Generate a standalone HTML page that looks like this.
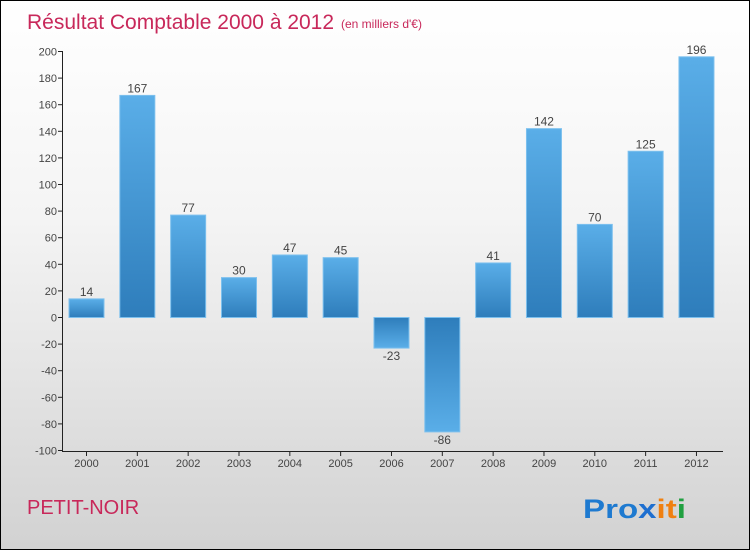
<!DOCTYPE html>
<html><head><meta charset="utf-8"><style>
body{margin:0;width:750px;height:550px;overflow:hidden}
#c{position:absolute;left:0;top:0;width:748px;height:548px;border:1px solid #000;background:linear-gradient(#ffffff,#f4f4f4 40%,#d2d2d2)}
svg text{font-family:"Liberation Sans",sans-serif}
</style></head><body>
<div id="c">
<svg width="750" height="550" id="s">
<defs><linearGradient id="g" x1="0" y1="0" x2="0" y2="1"><stop offset="0" stop-color="#5aaee8"/><stop offset="1" stop-color="#2e7dbb"/></linearGradient>
<linearGradient id="gn" x1="0" y1="0" x2="0" y2="1"><stop offset="0" stop-color="#2e7dbb"/><stop offset="1" stop-color="#5aaee8"/></linearGradient></defs>
<text x="26" y="28" font-size="21" fill="#c8285a">Résultat Comptable 2000 à 2012</text>
<text x="340" y="27" font-size="12" fill="#c8285a">(en milliers d'€)</text>
<text x="26" y="513" font-size="20" fill="#c8285a">PETIT-NOIR</text>
<text x="582" y="517" font-size="27" font-weight="bold" textLength="103" lengthAdjust="spacingAndGlyphs"><tspan fill="#1e7ad0">Pro</tspan><tspan fill="#1e6fd0">x</tspan><tspan fill="#f08010">it</tspan><tspan fill="#20a040">i</tspan></text>
<g id="bars"></g><g id="axes"></g>
</svg></div>
<script>
const categories=["2000","2001","2002","2003","2004","2005","2006","2007","2008","2009","2010","2011","2012"];
const values=[14,167,77,30,47,45,-23,-86,41,142,70,125,196];
const yTicks=[-100,-80,-60,-40,-20,0,20,40,60,80,100,120,140,160,180,200];
const NS="http://www.w3.org/2000/svg";
function y(v){return 316.5-(v)*1.33;}
function x(i){return 85.5+i*50.83;}
function mk(t,a,p){const e=document.createElementNS(NS,t);for(const k in a)e.setAttribute(k,a[k]);p.appendChild(e);return e;}
const bars=document.getElementById('bars'),axes=document.getElementById('axes');
values.forEach((v,i)=>{
 const top=Math.min(y(v),y(0)),h=Math.abs(y(v)-y(0));
 const r=mk('rect',{x:x(i)-17.5,y:top,width:35,height:h,fill:v>=0?'url(#g)':'url(#gn)',stroke:'#7cc0ee','stroke-width':1},bars);
 
 
 const t=mk('text',{x:x(i),y:v>=0?y(v)-3:y(v)+12,'text-anchor':'middle','font-size':12,fill:'#444'},bars);
 t.textContent=v;
 
 
 const tk=mk('line',{x1:x(i),x2:x(i),y1:450,y2:455,stroke:'#222'},axes);
 
 
 const l=mk('text',{x:x(i),y:466,'text-anchor':'middle','font-size':11,fill:'#444'},axes);
 l.textContent=categories[i];
 
 
});
yTicks.forEach(v=>{
 const tk=mk('line',{x1:57,x2:62,y1:y(v),y2:y(v),stroke:'#222'},axes);
 
 
 const l=mk('text',{x:56,y:y(v)+4,'text-anchor':'end','font-size':11,fill:'#444'},axes);
 l.textContent=v;
 
 
});
const ya=mk('line',{x1:61.5,x2:61.5,y1:50,y2:450,stroke:'#222'},axes);


const xa=mk('line',{x1:61,x2:722,y1:450.5,y2:450.5,stroke:'#222'},axes);


</script>
</body></html>
